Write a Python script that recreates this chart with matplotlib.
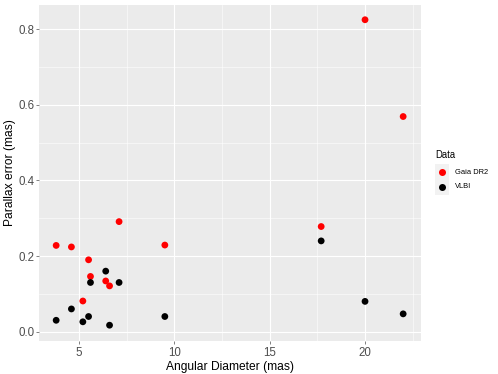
import matplotlib.pyplot as plt
from matplotlib.lines import Line2D
from matplotlib.patches import Rectangle
from matplotlib.ticker import MultipleLocator

plt.rcParams["font.family"] = ["Liberation Sans", "DejaVu Sans"]

angular_diameter = [3.8, 4.6, 5.2, 5.5, 5.6, 6.4, 6.6, 7.1, 9.5, 17.7, 20.0, 22.0]
gaia_error = [0.228, 0.224, 0.081, 0.190, 0.146, 0.134, 0.121, 0.291, 0.229, 0.278, 0.825, 0.569]
vlbi_error = [0.030, 0.060, 0.026, 0.040, 0.130, 0.160, 0.017, 0.130, 0.040, 0.240, 0.080, 0.047]

series = [("Gaia DR2", gaia_error, "#FF0000"), ("VLBI", vlbi_error, "#000000")]

W, H = 498, 374
fig = plt.figure(figsize=(W / 72, H / 72), dpi=72)
ax = fig.add_axes([39 / W, 1 - 340.7 / H, (420.7 - 39) / W, (340.7 - 5) / H])
ax.set_facecolor("#EBEBEB")

for label, err, color in series:
    ax.scatter(angular_diameter, err, s=46, color=color, edgecolors="none", zorder=3)

ax.set_xlim(2.9, 22.92)
ax.set_ylim(-0.024, 0.864)
ax.xaxis.set_major_locator(MultipleLocator(5))
ax.xaxis.set_minor_locator(MultipleLocator(2.5))
ax.yaxis.set_major_locator(MultipleLocator(0.2))
ax.yaxis.set_minor_locator(MultipleLocator(0.1))
ax.yaxis.set_major_formatter(lambda v, p: f"{v:.1f}")
ax.grid(which="major", color="white", linewidth=1.1, zorder=0)
ax.grid(which="minor", color="white", linewidth=0.55, zorder=0)
ax.set_axisbelow(True)
for s in ax.spines.values():
    s.set_visible(False)
ax.tick_params(which="major", length=2.75, width=0.6, color="#333333",
               labelcolor="#4D4D4D", labelsize=11.5)
ax.tick_params(axis="x", pad=4)
ax.tick_params(axis="y", pad=1.5)
ax.tick_params(which="minor", length=0)

ax.set_xlabel("Angular Diameter (mas)", fontsize=12, labelpad=1.5)
ax.set_ylabel("Parallax error (mas)", fontsize=12, labelpad=3)

# legend drawn in pixel coordinates on the right
def px(x, y):
    return x / W, 1 - y / H

fig.text(*px(435, 155), "Data", fontsize=9.5, ha="left", va="center")
for i, (label, err, color) in enumerate(series):
    yc = 172 + 15 * i
    bx, by = px(435, yc + 7.5)
    fig.add_artist(Rectangle((bx, by), 14 / W, 15 / H, transform=fig.transFigure,
                             facecolor="#F2F2F2", edgecolor="none"))
    fig.add_artist(Line2D([px(442, yc)[0]], [px(442, yc)[1]], transform=fig.transFigure,
                          marker="o", markersize=7, color=color, markeredgewidth=0))
    fig.text(*px(455, yc), label, fontsize=7.5, ha="left", va="center")

fig.savefig("out.png", dpi=72)
